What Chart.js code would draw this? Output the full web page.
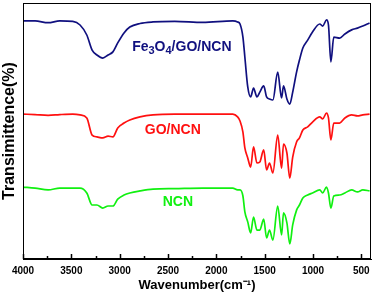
<!DOCTYPE html>
<html>
<head>
<meta charset="utf-8">
<script src="https://cdn.jsdelivr.net/npm/chart.js@4/dist/chart.umd.min.js"></script>
<style>
  html, body { margin: 0; padding: 0; background: #ffffff; }
  #wrap { width: 375px; height: 294px; position: relative; }
</style>
</head>
<body>
<div id="wrap"><canvas id="c" width="375" height="294"></canvas></div>
<script>
// Wavenumber grid (cm^-1)
const wavenumbers = [4000, 3875, 3740, 3620, 3485, 3410, 3340, 3285, 3235, 3175, 3120, 3070, 3020, 2955, 2895, 2790, 2655, 2430, 2140, 1830, 1780, 1755, 1725, 1705, 1675, 1645, 1615, 1580, 1550, 1510, 1480, 1450, 1415, 1365, 1325, 1305, 1270, 1240, 1210, 1170, 1140, 1105, 1055, 1005, 930, 900, 860, 840, 815, 785, 725, 670, 600, 540, 485, 415];

// Transmittance (arbitrary %, curves offset vertically)
const fe3o4GoNcn = [93.0, 93.0, 92.3, 93.0, 92.8, 91.4, 87.5, 81.6, 79.7, 78.5, 79.7, 80.9, 84.4, 88.3, 90.6, 92.0, 92.6, 92.8, 92.4, 93.0, 92.6, 91.8, 86.7, 78.9, 67.2, 63.3, 66.8, 63.3, 65.2, 67.6, 63.3, 62.5, 62.1, 73.0, 62.9, 67.6, 62.5, 60.5, 65.2, 73.0, 77.7, 82.4, 85.5, 88.7, 91.8, 91.0, 93.4, 91.4, 77.0, 86.7, 86.3, 87.9, 89.5, 90.2, 91.0, 92.2];
const goNcn = [56.6, 56.4, 56.1, 56.4, 56.6, 56.3, 55.1, 48.4, 47.7, 47.3, 48.0, 47.7, 51.2, 53.1, 54.3, 55.5, 56.3, 56.6, 56.6, 56.6, 55.5, 53.9, 49.6, 43.4, 39.5, 35.9, 43.8, 37.5, 37.9, 42.6, 34.8, 37.5, 33.6, 48.4, 35.5, 44.9, 41.4, 31.6, 39.8, 45.7, 47.3, 50.4, 51.6, 53.5, 55.5, 54.7, 57.0, 55.1, 46.5, 53.1, 53.1, 55.1, 56.3, 55.9, 56.3, 56.6];
const ncn = [28.1, 27.7, 27.0, 27.7, 27.7, 27.7, 25.8, 21.1, 21.1, 19.9, 20.7, 20.7, 23.4, 25.0, 25.8, 26.6, 27.3, 27.5, 27.7, 27.7, 27.0, 27.0, 24.6, 18.4, 14.5, 10.2, 16.4, 11.3, 11.3, 15.6, 8.2, 11.3, 7.4, 20.7, 9.4, 18.0, 14.1, 5.9, 13.3, 19.1, 21.1, 23.8, 25.0, 25.8, 27.0, 25.8, 28.1, 25.8, 19.9, 24.6, 25.0, 25.8, 27.0, 26.2, 27.0, 26.6];

// Axis ticks
const xTickValues = [500, 750, 1000, 1250, 1500, 1750, 2000, 2250, 2500, 2750, 3000, 3250, 3500, 3750, 4000];
const xLabeledTicks = [500, 1000, 1500, 2000, 2500, 3000, 3500, 4000];

const seriesNames = ['Fe3O4/GO/NCN', 'GO/NCN', 'NCN'];
const seriesColors = ['#10107f', '#ff1010', '#10f010'];

function pts(vals) { return wavenumbers.map((w, i) => ({ x: w, y: vals[i] })); }

const frameAndTicks = {
  id: 'frameAndTicks',
  afterDatasetsDraw(chart) {
    const { ctx, chartArea: a, scales } = chart;
    ctx.save();
    ctx.strokeStyle = '#000';
    ctx.lineWidth = 1;
    ctx.strokeRect(a.left + 0.5, a.top + 0.5, a.right - a.left - 1, a.bottom - a.top - 1);
    ctx.lineWidth = 1.5;
    xTickValues.forEach(v => {
      const px = Math.round(scales.x.getPixelForValue(v)) + 0.5;
      const len = xLabeledTicks.includes(v) ? 5 : 3;
      ctx.beginPath();
      ctx.moveTo(px, a.bottom);
      ctx.lineTo(px, a.bottom - len);
      ctx.stroke();
    });
    // series labels
    const font = 'bold 14px "Liberation Sans", Arial, sans-serif';
    const subFont = 'bold 11px "Liberation Sans", Arial, sans-serif';
    function drawParts(parts, wx, vy, color) {
      ctx.fillStyle = color;
      ctx.textBaseline = 'middle';
      ctx.textAlign = 'left';
      let total = 0;
      parts.forEach(p => { ctx.font = p.sub ? subFont : font; total += ctx.measureText(p.t).width; });
      let x = scales.x.getPixelForValue(wx) - total / 2;
      const y = scales.y.getPixelForValue(vy);
      parts.forEach(p => {
        ctx.font = p.sub ? subFont : font;
        ctx.fillText(p.t, x, p.sub ? y + 4 : y);
        x += ctx.measureText(p.t).width;
      });
    }
    drawParts([{t:'Fe'},{t:'3',sub:true},{t:'O'},{t:'4',sub:true},{t:'/GO/NCN'}], 2357, 82.8, seriesColors[0]);
    drawParts([{t:'GO/NCN'}], 2450, 50.4, seriesColors[1]);
    drawParts([{t:'NCN'}], 2398, 22.3, seriesColors[2]);
    ctx.restore();
  }
};

new Chart(document.getElementById('c'), {
  type: 'line',
  data: {
    datasets: [
      { label: seriesNames[0], data: pts(fe3o4GoNcn), borderColor: seriesColors[0] },
      { label: seriesNames[1], data: pts(goNcn), borderColor: seriesColors[1] },
      { label: seriesNames[2], data: pts(ncn), borderColor: seriesColors[2] }
    ]
  },
  options: {
    responsive: false,
    animation: false,
    layout: { padding: { top: 3, right: 4, left: 0, bottom: 0 } },
    elements: {
      line: { borderWidth: 1.7, cubicInterpolationMode: 'monotone' },
      point: { radius: 0 }
    },
    plugins: { legend: { display: false }, tooltip: { enabled: false } },
    scales: {
      x: {
        type: 'linear',
        reverse: true,
        min: 400,
        max: 4000,
        afterBuildTicks(scale) { scale.ticks = xTickValues.map(v => ({ value: v })); },
        afterFit(scale) { scale.height = 35; },
        ticks: {
          autoSkip: false,
          maxRotation: 0,
          padding: 6,
          color: '#000',
          font: { family: '"Liberation Sans", Arial, sans-serif', size: 10, weight: 'bold' },
          callback: v => xLabeledTicks.includes(v) ? String(v) : ''
        },
        grid: { display: false, drawTicks: false },
        border: { display: true, color: '#000', width: 1 },
        title: {
          display: true,
          text: 'Wavenumber(cm\u207B\u00B9)',
          color: '#000',
          padding: { top: 0, bottom: 1 },
          font: { family: '"Liberation Sans", Arial, sans-serif', size: 13, weight: 'bold' }
        }
      },
      y: {
        type: 'linear',
        min: 0,
        max: 100,
        afterFit(scale) { scale.width = 23; },
        ticks: { display: false },
        grid: { display: false, drawTicks: false },
        border: { display: true, color: '#000', width: 1 },
        title: {
          display: true,
          text: 'Transimittence(%)',
          color: '#000',
          padding: { top: 0, bottom: 0 },
          font: { family: '"Liberation Sans", Arial, sans-serif', size: 16, weight: 'bold' }
        }
      }
    }
  },
  plugins: [frameAndTicks]
});
</script>
</body>
</html>
